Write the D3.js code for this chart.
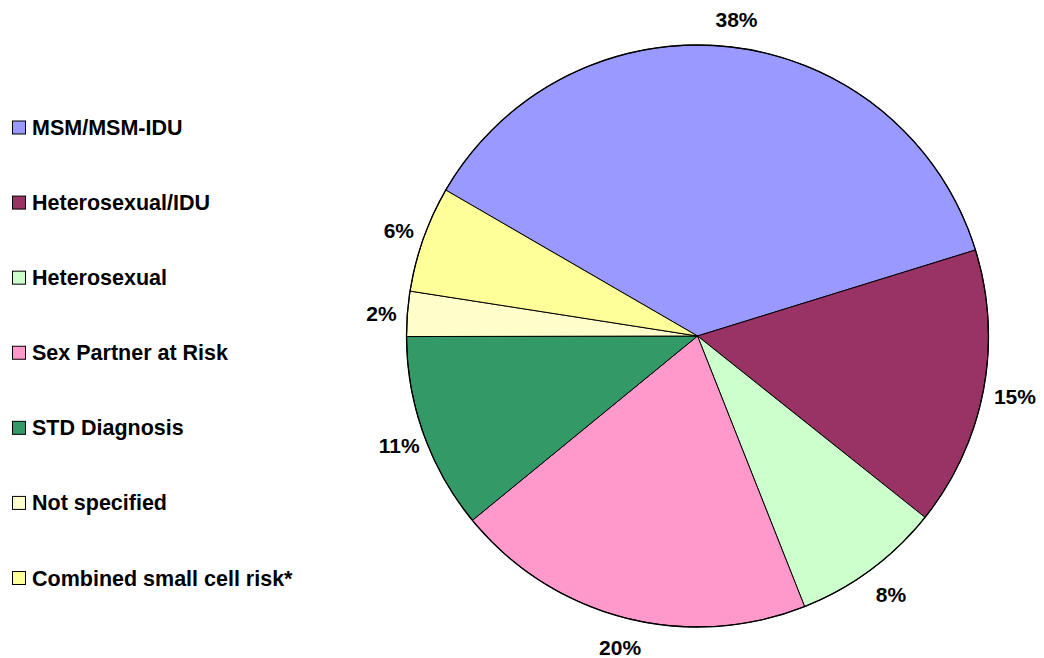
<!DOCTYPE html>
<html>
<head>
<meta charset="utf-8">
<script src="https://cdn.jsdelivr.net/npm/d3@7"></script>
<style>
  html, body { margin: 0; padding: 0; background: #fff; }
  svg text { font-family: "Liberation Sans", Arial, sans-serif; font-weight: bold; fill: #000; }
</style>
</head>
<body>
<svg id="chart" width="1044" height="658"></svg>
<script>
const categories = ["MSM/MSM-IDU", "Heterosexual/IDU", "Heterosexual", "Sex Partner at Risk", "STD Diagnosis", "Not specified", "Combined small cell risk*"];
const values = [36.9, 15.5, 8.3, 20.1, 10.9, 2.5, 5.9];
const valueLabels = ["38%", "15%", "8%", "20%", "11%", "2%", "6%"];
const colors = ["#9999FF", "#993366", "#CCFFCC", "#FF99CC", "#339966", "#FFFFCC", "#FFFF99"];

const svg = d3.select("#chart");
const cx = 697.5, cy = 336, r = 291;
const startDeg = -59.9;

const pie = d3.pie().sort(null).value(d => d.v)
  .startAngle(startDeg * Math.PI / 180)
  .endAngle(startDeg * Math.PI / 180 + 2 * Math.PI);
const data = categories.map((c, i) => ({ c, v: values[i], lab: valueLabels[i], col: colors[i] }));
const arcs = pie(data);
const arc = d3.arc().innerRadius(0).outerRadius(r);
const labelArc = d3.arc().innerRadius(320).outerRadius(320);

const g = svg.append("g").attr("transform", `translate(${cx},${cy})`);
g.selectAll("path.slice").data(arcs).enter().append("path")
  .attr("class", "slice")
  .attr("d", arc)
  .attr("fill", d => d.data.col)
  .attr("stroke", "#000")
  .attr("stroke-width", 1)
  .attr("stroke-linejoin", "round");

g.append("circle").attr("r", r).attr("fill", "none").attr("stroke", "#000").attr("stroke-width", 1.3);

g.selectAll("text.lbl").data(arcs).enter().append("text")
  .attr("class", "lbl")
  .attr("transform", d => { const p = labelArc.centroid(d); return `translate(${p[0] + 3},${p[1] + 1.5})`; })
  .attr("text-anchor", "middle")
  .attr("dy", "0.36em")
  .style("font-size", "21px")
  .text(d => d.data.lab);

// Legend
const legendY = d3.scalePoint().domain(categories).range([127.5, 578]);
const lg = svg.append("g");
const items = lg.selectAll("g.item").data(data).enter().append("g")
  .attr("class", "item")
  .attr("transform", d => `translate(0,${legendY(d.c)})`);
items.append("rect")
  .attr("x", 12.5).attr("y", -6.5).attr("width", 13).attr("height", 13)
  .attr("fill", d => d.col).attr("stroke", "#000").attr("stroke-width", 1);
items.append("text")
  .attr("x", 32).attr("y", 7.5)
  .style("font-size", "21.5px")
  .text(d => d.c);
</script>
</body>
</html>
